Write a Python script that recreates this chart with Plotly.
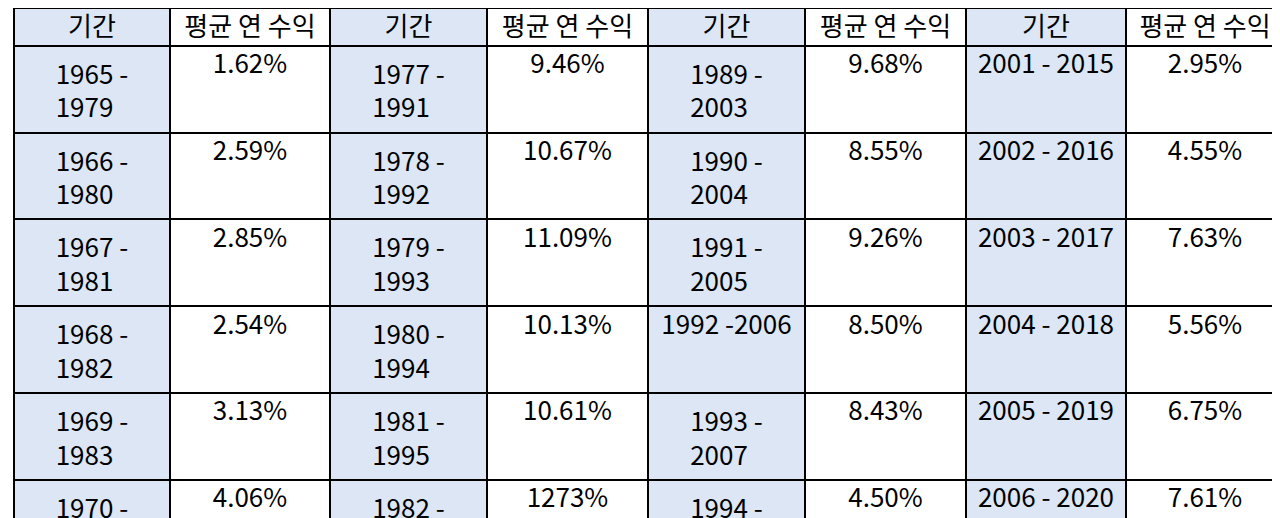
import plotly.graph_objects as go

periods_1 = ["1965 - 1979", "1966 - 1980", "1967 - 1981", "1968 - 1982", "1969 - 1983", "1970 - 1984",
             "1971 - 1985", "1972 - 1986", "1973 - 1987", "1974 - 1988", "1975 - 1989", "1976 - 1990"]
returns_1 = ["1.62%", "2.59%", "2.85%", "2.54%", "3.13%", "4.06%", "5.68%", "5.92%", "5.04%", "7.22%", "11.55%", "9.03%"]
periods_2 = ["1977 - 1991", "1978 - 1992", "1979 - 1993", "1980 - 1994", "1981 - 1995", "1982 - 1996",
             "1983 - 1997", "1984 - 1998", "1985 - 1999", "1986 - 2000", "1987 - 2001", "1988 - 2002"]
returns_2 = ["9.46%", "10.67%", "11.09%", "10.13%", "10.61%", "1273%", "13.73%", "14.31%", "15.58%", "1299%", "10.92%", "8.83%"]
periods_3 = ["1989 - 2003", "1990 - 2004", "1991 - 2005", "1992 -2006", "1993 - 2007", "1994 - 2008",
             "1995 - 2009", "1996 - 2010", "1997 - 2011", "1998 - 2012", "1999 - 2013", "2000 - 2014"]
returns_3 = ["9.68%", "8.55%", "9.26%", "8.50%", "8.43%", "4.50%", "6.09%", "4.87%", "3.59%", "2.60%", "2.75%", "2.27%"]
periods_4 = ["2001 - 2015", "2002 - 2016", "2003 - 2017", "2004 - 2018", "2005 - 2019", "2006 - 2020",
             "2007 - 2021", "2008 - 2022", "2009 - 2023", "2010 - 2024", "", ""]
returns_4 = ["2.95%", "4.55%", "7.63%", "5.56%", "6.75%", "7.61%", "8.41%", "6.72%", "11.73%", "11.71%", "", ""]

headers = ["기간", "평균 연 수익"] * 4
columns = [periods_1, returns_1, periods_2, returns_2, periods_3, returns_3, periods_4, returns_4]

blue = "#dce6f4"
fills = []
for i, col in enumerate(columns):
    base = blue if i % 2 == 0 else "white"
    fills.append([("black" if (i >= 6 and v == "") else base) for v in col])

font = dict(family="Noto Sans CJK KR", size=26, color="black")
row_h = 37.7

fig = go.Figure(go.Table(
    columnwidth=[154, 158, 155, 159, 155, 159, 158, 156],
    header=dict(values=headers, fill_color=[blue, "white"] * 4, line=dict(color="black", width=2),
                align="center", font=font, height=row_h),
    cells=dict(values=columns, fill_color=fills, line=dict(color="black", width=2),
               align="center", font=font, height=row_h),
))
fig.update_layout(width=1280, height=518, margin=dict(l=6, r=4, t=0, b=0),
                  paper_bgcolor="white")
fig.write_html("out.html")
